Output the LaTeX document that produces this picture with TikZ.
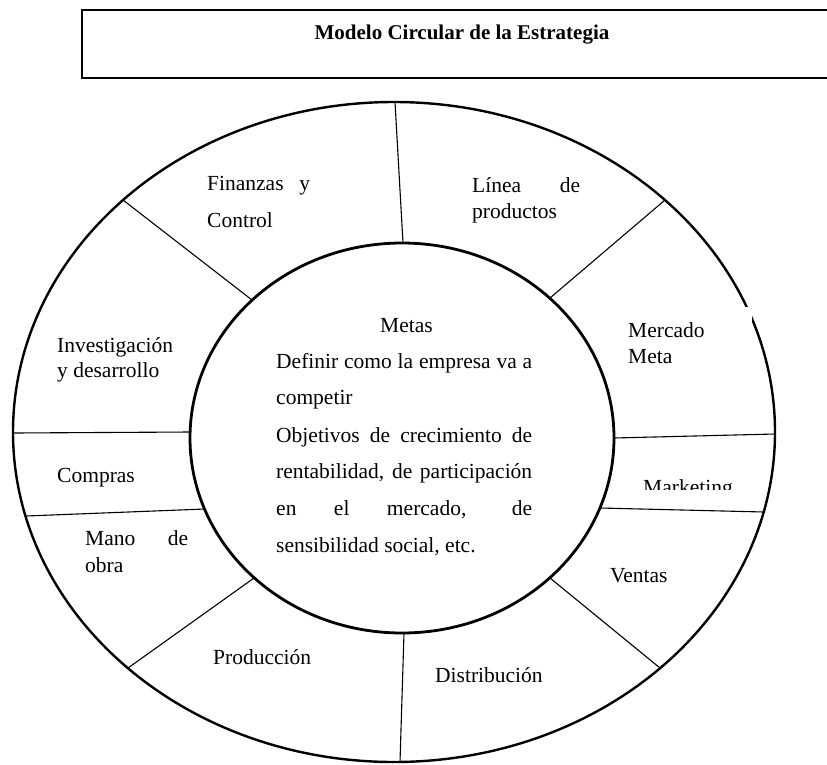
\documentclass[tikz,border=0pt]{standalone}
\usepackage{fontspec}
\setmainfont{Liberation Serif}
\begin{document}
\begin{tikzpicture}[x=1pt,y=-1pt,
  ring/.style={line width=2.4pt},
  core/.style={line width=2.8pt},
  spoke/.style={line width=1.1pt},
  frame/.style={line width=1.6pt},
  lbl/.style={anchor=base west, inner sep=0pt, font=\fontsize{21.5}{26}\selectfont},
  titletext/.style={anchor=base, inner sep=0pt, font=\bfseries\fontsize{21}{25}\selectfont},
]
\useasboundingbox (0,0) rectangle (827,764);

% title frame (runs off the right edge)
\draw[frame] (840,10) -- (82,10) -- (82,78) -- (840,78);
\node[titletext] (title) at (462,39) {Modelo Circular de la Estrategia};

% outer ring and central disc
\draw[ring] (394,432) ellipse [x radius=381, y radius=330];
\draw[core] (402,438) ellipse [x radius=212, y radius=195];

% end points of the spokes on the outer ring
\coordinate (o1) at (395,102);
\coordinate (o2) at (665,200);
\coordinate (o3) at (775,434);
\coordinate (o4) at (764,512);
\coordinate (o5) at (660,668);
\coordinate (o6) at (400,762);
\coordinate (o7) at (128,668);
\coordinate (o8) at (26,516);
\coordinate (o9) at (13,433);
\coordinate (o10) at (123,200);
% end points of the spokes on the central disc
\coordinate (i1) at (403,243);
\coordinate (i2) at (550,298);
\coordinate (i3) at (614,438);
\coordinate (i4) at (600,508);
\coordinate (i5) at (550,578);
\coordinate (i6) at (404,633);
\coordinate (i7) at (254,578);
\coordinate (i8) at (205,509);
\coordinate (i9) at (190,432);
\coordinate (i10) at (252,300);

\foreach \k in {1,...,10}{
  \draw[spoke] (o\k) -- (i\k);
}

% text frame of the "Mercado Meta" sector (white, hides part of the ring)
\fill[white] (618,307) rectangle (752,400);

% sector labels
\node[lbl] (fin1) at (207,190) {\makebox[103pt][s]{Finanzas y}};
\node[lbl] (fin2) at (207,227) {Control};
\node[lbl] (lin1) at (472,192) {\makebox[108pt][s]{Línea de}};
\node[lbl] (lin2) at (472,218) {productos};
\node[lbl] (mer1) at (628,337) {Mercado};
\node[lbl] (mer2) at (628,363) {Meta};
\begin{scope}
  \clip (600,440) rectangle (760,489);
  \node[lbl] (mkt) at (643,494) {Marketing};
\end{scope}
\node[lbl] (ven) at (610,582) {Ventas};
\node[lbl] (dis) at (435,682) {Distribución};
\node[lbl] (pro) at (213,664) {Producción};
\node[lbl] (man1) at (85,545) {\makebox[103pt][s]{Mano de}};
\node[lbl] (man2) at (85,572) {obra};
\node[lbl] (com) at (57,482) {Compras};
\node[lbl] (inv1) at (57,352) {Investigación};
\node[lbl] (inv2) at (57,377) {y desarrollo};

% goals in the centre
\node[lbl] (met) at (380,332) {Metas};
\node[lbl] (g1) at (276,368) {\makebox[256pt][s]{Definir como la empresa va a}};
\node[lbl] (g2) at (276,404) {competir};
\node[lbl] (g3) at (276,442) {\makebox[256pt][s]{Objetivos de crecimiento de}};
\node[lbl] (g4) at (276,478) {\makebox[256pt][s]{rentabilidad, de participación}};
\node[lbl] (g5) at (276,515) {\makebox[256pt][s]{en el mercado, de}};
\node[lbl] (g6) at (276,552) {sensibilidad social, etc.};
\end{tikzpicture}
\end{document}
